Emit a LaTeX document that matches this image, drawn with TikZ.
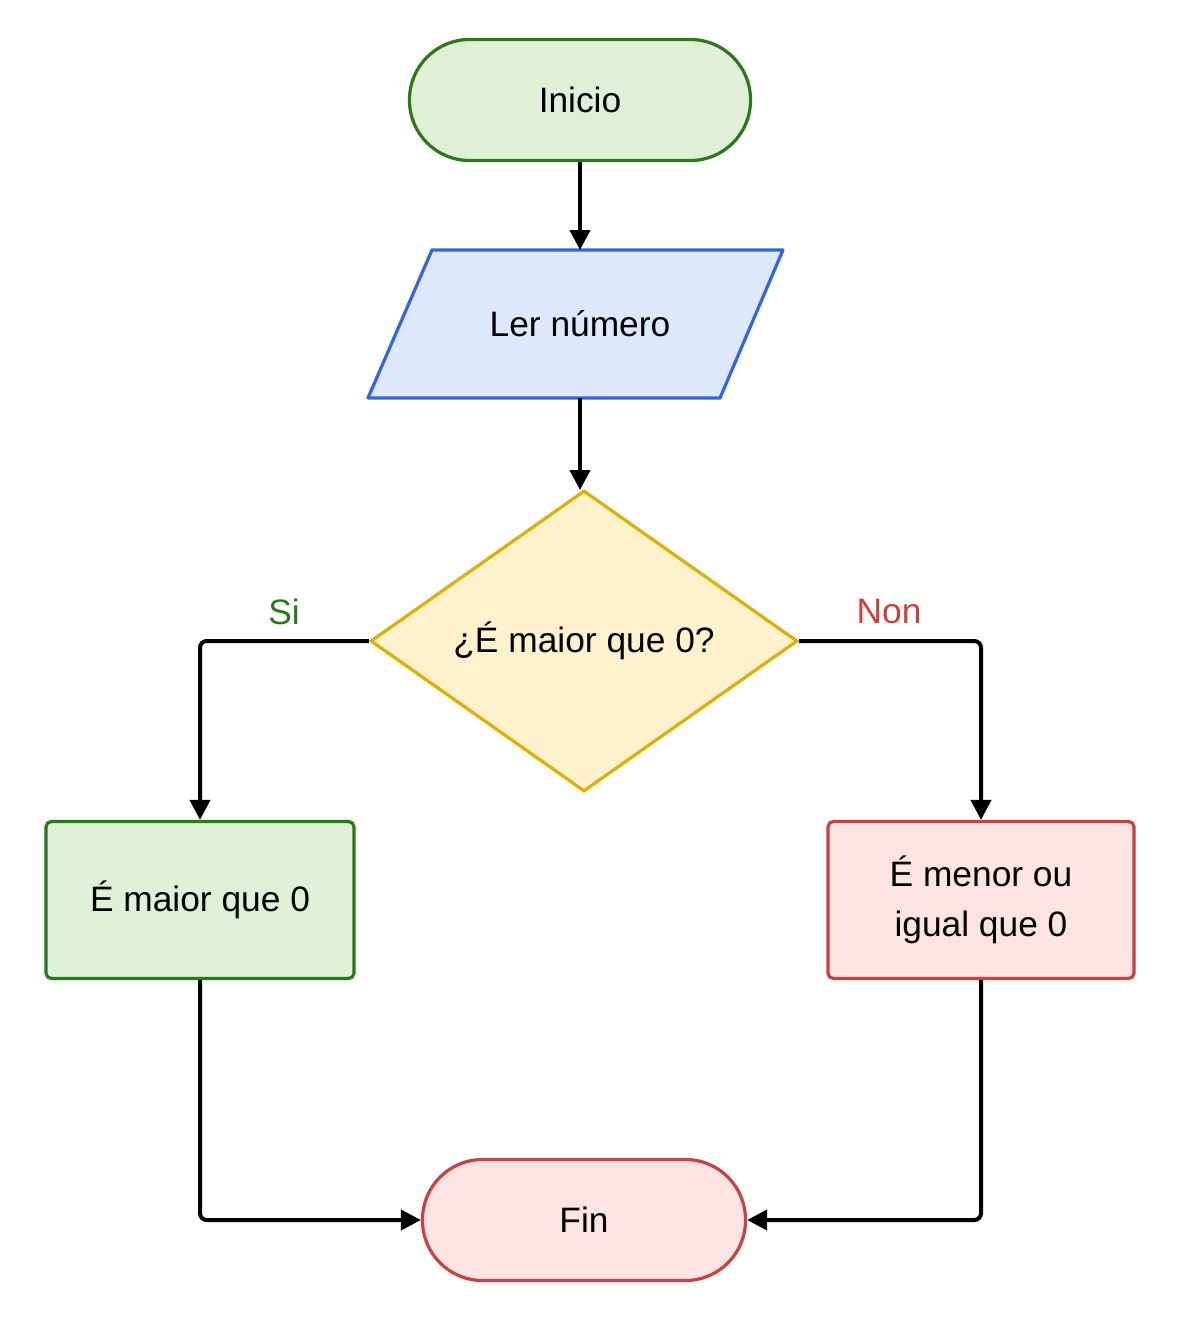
\documentclass[tikz,border=0pt]{standalone}
\usepackage{fontspec}
\setmainfont{Liberation Sans}
\usetikzlibrary{shapes.geometric,arrows.meta}
\definecolor{gfill}{HTML}{DFF0D6}
\definecolor{gline}{HTML}{2A7A1C}
\definecolor{bfill}{HTML}{DDE8FB}
\definecolor{bline}{HTML}{3366DD}
\definecolor{yfill}{HTML}{FFF2CC}
\definecolor{yline}{HTML}{E0B000}
\definecolor{rfill}{HTML}{FCE4E4}
\definecolor{rline}{HTML}{CC4040}
\def\u{0.75pt}
\begin{document}
\begin{tikzpicture}[x=0.75pt,y=-0.75pt,
  font=\fontsize{26.5}{37.5}\selectfont,
  box/.style={draw,line width=2.4pt,inner sep=0pt,align=center},
  term/.style={box,rounded corners={60*\u},minimum width={341*\u},minimum height={121*\u}},
  proc/.style={box,rounded corners=4pt,minimum width={308*\u},minimum height={157*\u}},
  arr/.style={line width=3pt,rounded corners=5pt,-{Triangle[length=15pt,width=15pt]}}]
\useasboundingbox[fill=white] (0,0) rectangle (1185,1327);
\node[term,fill=gfill,draw=gline] (ini) at (580,100) {Inicio};
\draw[line width=2.4pt,draw=bline,fill=bfill,line join=round] (432,250)--(783,250)--(720,398)--(368,398)--cycle;
\node[inner sep=0pt,minimum width={351*\u},minimum height={148*\u}] (ler) at (580,324) {Ler número};
\node[box,shape=diamond,fill=yfill,draw=yline,minimum width={427*\u},minimum height={301*\u}] (dec) at (584,641) {¿É maior que 0?};
\node[proc,fill=gfill,draw=gline] (si) at (200,900) {É maior que 0};
\node[proc,fill=rfill,draw=rline,minimum width={306*\u}] (non) at (981,900) {É menor ou\\igual que 0};
\node[term,fill=rfill,draw=rline,minimum width={323*\u}] (fin) at (584,1220) {Fin};
\draw[arr] (ini.south) -- (580,250);
\draw[arr] (ler.south) -- (580,490);
\draw[arr] (dec.west) -| (si.north);
\draw[arr] (dec.east) -| (non.north);
\draw[arr] (si.south) |- (fin.west);
\draw[arr] (non.south) |- (fin.east);
\node[text=gline] (lsi) at (284,612) {Si};
\node[text=rline] (lnon) at (889,612) {Non};
\end{tikzpicture}
\end{document}
